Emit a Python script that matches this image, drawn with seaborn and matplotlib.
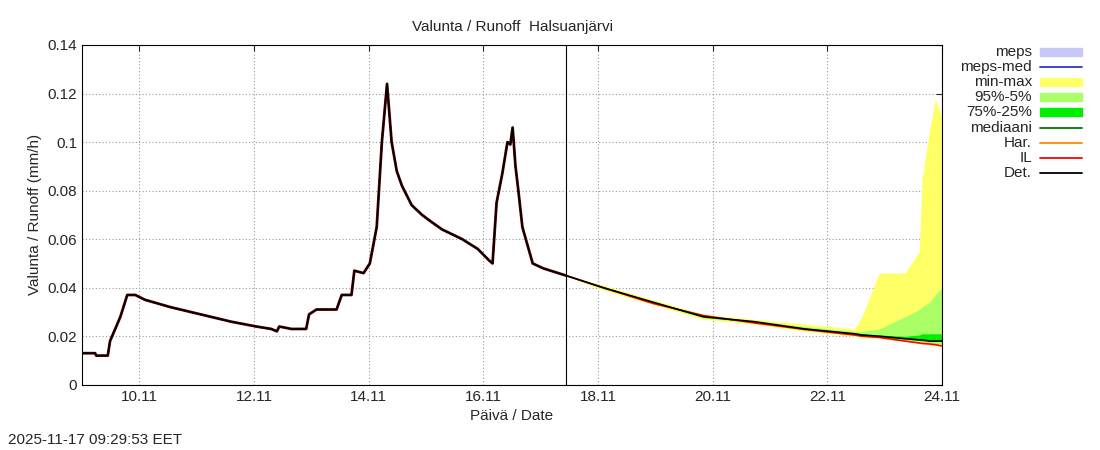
import matplotlib
matplotlib.use("Agg")
import matplotlib.pyplot as plt
import seaborn as sns
import numpy as np
import pandas as pd
from matplotlib.lines import Line2D
from matplotlib.patches import Rectangle

sns.set_style("white")
plt.rcParams['font.family'] = ['Liberation Sans', 'DejaVu Sans']

# Observed series (day of November, mm/h)
det_day = [9.0, 9.23, 9.25, 9.45, 9.49, 9.67, 9.79, 9.93, 10.1, 10.54, 11.07, 11.6, 12.04, 12.3, 12.4, 12.44,
           12.65, 12.91, 12.96, 13.09, 13.44, 13.53, 13.7, 13.75, 13.91, 14.02, 14.14, 14.23, 14.32, 14.4, 14.49,
           14.58, 14.75, 14.93, 15.1, 15.28, 15.63, 15.9, 16.11, 16.16, 16.23, 16.33, 16.42, 16.47, 16.51, 16.56,
           16.61, 16.68, 16.86, 17.04, 17.44]
det_val = [0.013, 0.013, 0.012, 0.012, 0.018, 0.028, 0.037, 0.037, 0.035, 0.032, 0.029, 0.026, 0.024, 0.023, 0.022, 0.024,
           0.023, 0.023, 0.029, 0.031, 0.031, 0.037, 0.037, 0.047, 0.046, 0.050, 0.065, 0.100, 0.124, 0.100, 0.088,
           0.082, 0.074, 0.070, 0.067, 0.064, 0.060, 0.056, 0.051, 0.050, 0.075, 0.087, 0.100, 0.099, 0.106, 0.090,
           0.080, 0.065, 0.050, 0.048, 0.045]
# Forecast
fc_day = [17.44, 18.09, 18.96, 19.84, 20.72, 21.6, 22.47, 22.6, 22.9, 23.35, 23.6, 23.65, 23.78, 23.88, 24.0]
fc_val = [0.045, 0.040, 0.034, 0.028, 0.026, 0.023, 0.021, 0.0205, 0.020, 0.019, 0.0185, 0.0185, 0.018, 0.018, 0.018]
il_val = [0.045, 0.040, 0.0335, 0.0285, 0.0255, 0.0228, 0.0205, 0.020, 0.0195, 0.018, 0.0172, 0.017, 0.0168, 0.0165, 0.016]
mm_top = [0.045, 0.041, 0.035, 0.029, 0.027, 0.025, 0.023, 0.028, 0.046, 0.046, 0.055, 0.085, 0.105, 0.118, 0.11]
mm_bot = [0.045, 0.039, 0.033, 0.027, 0.025, 0.022, 0.020, 0.0195, 0.019, 0.018, 0.017, 0.017, 0.0165, 0.016, 0.016]
p95_top = [0.045, 0.0405, 0.0345, 0.0285, 0.0265, 0.024, 0.022, 0.022, 0.023, 0.028, 0.031, 0.032, 0.034, 0.037, 0.040]
p95_bot = [0.045, 0.0395, 0.0335, 0.0275, 0.0255, 0.0225, 0.0205, 0.020, 0.0195, 0.0185, 0.0178, 0.0175, 0.0172, 0.017, 0.017]
p75_top = [0.045, 0.0402, 0.0342, 0.0282, 0.0262, 0.0235, 0.0213, 0.021, 0.0205, 0.020, 0.0205, 0.021, 0.021, 0.021, 0.021]
p75_bot = [0.045, 0.0398, 0.0338, 0.0278, 0.0258, 0.0228, 0.0208, 0.0203, 0.0198, 0.0188, 0.0183, 0.018, 0.018, 0.018, 0.018]

tick_pos = [10, 12, 14, 16, 18, 20, 22, 24]
tick_lab = ["10.11", "12.11", "14.11", "16.11", "18.11", "20.11", "22.11", "24.11"]

fig = plt.figure(figsize=(11, 4.5), dpi=100)
ax = fig.add_axes([0.0745, 0.145, 0.782, 0.755])

ax.fill_between(fc_day, mm_top, mm_bot, color="#ffff66", lw=0)
ax.fill_between(fc_day, p95_top, p95_bot, color="#aaff66", lw=0)
ax.fill_between(fc_day, p75_top, p75_bot, color="#00ee00", lw=0)

ax.plot(fc_day, il_val, color="red", lw=1.2)
ax.plot(fc_day, fc_val, color="black", lw=1.2)
df = pd.DataFrame({"d": det_day, "v": det_val})
sns.lineplot(data=df, x="d", y="v", ax=ax, color="#6b0000", lw=2.0, estimator=None, sort=False)
sns.lineplot(data=df, x="d", y="v", ax=ax, color="black", lw=1.2, estimator=None, sort=False)
ax.axvline(17.44, color="black", lw=0.8)

ax.set_xlim(9.0, 24.0)
ax.set_ylim(0, 0.14)
ax.set_xticks(tick_pos)
ax.set_xticklabels(tick_lab)
ax.set_yticks([0, 0.02, 0.04, 0.06, 0.08, 0.1, 0.12, 0.14])
ax.set_yticklabels(["0", "0.02", "0.04", "0.06", "0.08", "0.1", "0.12", "0.14"])
ax.grid(True, color="#999999", ls=(0, (1, 2)), lw=0.8)
for s in ax.spines.values():
    s.set_color("black"); s.set_linewidth(0.8)
ax.tick_params(labelsize=11, length=4, direction="in", top=True, right=True)
ax.set_xlabel("Päivä / Date", fontsize=11)
ax.set_ylabel("Valunta / Runoff (mm/h)", fontsize=11)
ax.set_title("Valunta / Runoff  Halsuanjärvi", fontsize=11, pad=10)

labels = ["meps", "meps-med", "min-max", "95%-5%", "75%-25%", "mediaani", "Har.", "IL", "Det."]
styles = [("patch", "#c8c8f8"), ("line", "#3333cc"), ("patch", "#ffff66"), ("patch", "#aaff66"),
          ("patch", "#00ee00"), ("line", "#007700"), ("line", "#ff8800"), ("line", "red"), ("line", "black")]
for i, (lab, (kind, col)) in enumerate(zip(labels, styles)):
    yp = 1 - (52 + 15.1 * i) / 450
    fig.text(1032 / 1100, yp, lab, ha="right", va="center", fontsize=11)
    if kind == "patch":
        fig.add_artist(Rectangle((1040 / 1100, yp - 4 / 450), 42 / 1100, 8 / 450, color=col, transform=fig.transFigure))
    else:
        fig.add_artist(Line2D([1040 / 1100, 1082 / 1100], [yp, yp], color=col, lw=1.3, transform=fig.transFigure))

fig.text(8 / 1100, 1 - 440 / 450, "2025-11-17 09:29:53 EET", ha="left", va="center", fontsize=11)
fig.savefig("out.png", dpi=100)
